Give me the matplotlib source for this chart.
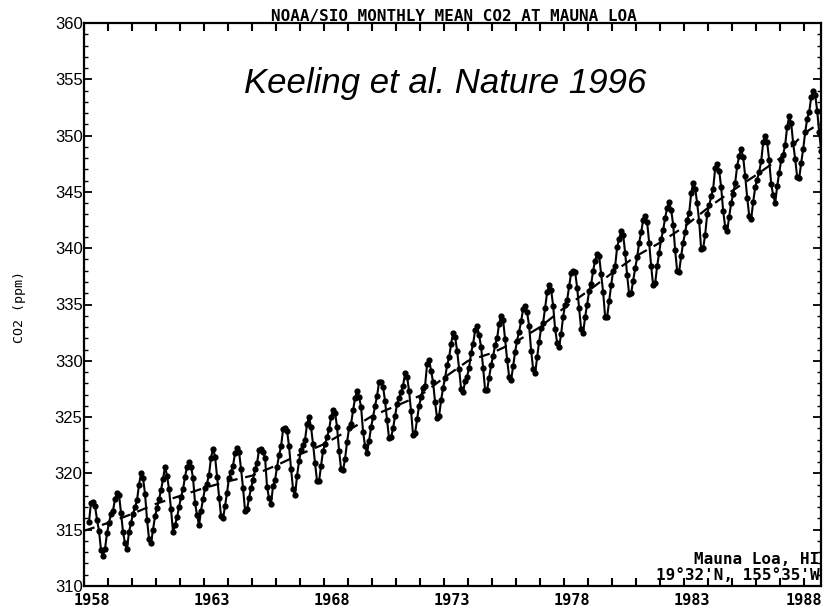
# Recreation of the NOAA/SIO monthly mean CO2 record at Mauna Loa (Keeling curve)

import numpy as np
import matplotlib
matplotlib.use("Agg")
import matplotlib.pyplot as plt
from matplotlib.transforms import ScaledTranslation

# monthly means (ppm), one row per year, Jan..Dec; nan = no data
co2_1958_1967 = [
    np.nan, np.nan, 315.7, 317.4, 317.5, 317.1, 315.9, 314.9, 313.2, 312.7, 313.3, 314.7,
    315.6, 316.4, 316.7, 317.7, 318.3, 318.1, 316.5, 314.8, 313.8, 313.3, 314.8, 315.6,
    316.4, 317.0, 317.6, 319.0, 320.0, 319.6, 318.2, 315.9, 314.2, 313.8, 315.0, 316.2,
    316.9, 317.7, 318.5, 319.5, 320.6, 319.8, 318.6, 316.8, 314.8, 315.4, 316.1, 317.0,
    317.9, 318.6, 319.7, 320.6, 321.0, 320.6, 319.6, 317.4, 316.3, 315.4, 316.7, 317.7,
    318.7, 319.1, 319.9, 321.4, 322.2, 321.5, 319.7, 317.8, 316.2, 316.0, 317.1, 318.3,
    319.6, 320.1, 320.7, 321.8, 322.3, 321.9, 320.4, 318.7, 316.7, 316.8, 317.8, 318.7,
    319.4, 320.4, 320.9, 322.1, 322.2, 321.9, 321.4, 318.8, 317.8, 317.3, 318.9, 319.4,
    320.6, 321.6, 322.4, 323.9, 324.0, 323.8, 322.4, 320.4, 318.6, 318.1, 319.8, 321.1,
    322.1, 322.5, 323.0, 324.4, 325.0, 324.1, 322.6, 320.9, 319.3, 319.3, 320.7, 322.0,
]
co2_1968_1977 = [
    322.6, 323.2, 323.9, 325.0, 325.6, 325.4, 324.1, 322.0, 320.4, 320.3, 321.3, 322.8,
    324.0, 324.4, 325.6, 326.7, 327.3, 326.8, 325.9, 323.7, 322.4, 321.8, 322.9, 324.1,
    325.0, 326.0, 326.9, 328.1, 328.1, 327.7, 326.4, 324.7, 323.1, 323.2, 324.0, 325.1,
    326.2, 326.7, 327.2, 327.8, 328.9, 328.6, 327.3, 325.5, 323.4, 323.6, 324.8, 326.0,
    326.8, 327.6, 327.8, 329.7, 330.1, 329.1, 328.1, 326.3, 324.9, 325.1, 326.5, 327.6,
    328.5, 329.6, 330.3, 331.5, 332.5, 332.1, 330.9, 329.3, 327.5, 327.2, 328.2, 328.6,
    329.4, 330.7, 331.5, 332.7, 333.1, 332.3, 331.2, 329.4, 327.4, 327.4, 328.5, 329.6,
    330.4, 331.4, 332.0, 333.3, 334.0, 333.6, 331.9, 330.1, 328.6, 328.3, 329.5, 330.8,
    331.8, 332.6, 333.5, 334.6, 334.9, 334.3, 333.1, 330.9, 329.3, 328.9, 330.3, 331.7,
    332.9, 333.4, 334.7, 336.1, 336.7, 336.3, 334.9, 332.8, 331.6, 331.2, 332.4, 333.9,
]
co2_1978_1988 = [
    335.0, 335.4, 336.6, 337.8, 338.0, 337.9, 336.5, 334.7, 332.8, 332.5, 333.9, 335.0,
    336.2, 336.8, 338.0, 338.9, 339.5, 339.3, 337.7, 336.1, 333.9, 333.9, 335.3, 336.7,
    338.0, 338.4, 340.1, 340.8, 341.5, 341.2, 339.6, 337.6, 335.9, 336.0, 337.1, 338.2,
    339.2, 340.5, 341.4, 342.5, 342.9, 342.3, 340.5, 338.4, 336.7, 336.9, 338.4, 339.6,
    340.8, 341.6, 342.7, 343.6, 344.1, 343.4, 342.1, 339.8, 338.0, 337.9, 339.3, 340.5,
    341.4, 342.5, 343.1, 344.9, 345.8, 345.3, 344.0, 342.4, 339.9, 340.0, 341.2, 343.0,
    343.8, 344.6, 345.3, 347.1, 347.5, 346.9, 345.4, 343.3, 341.9, 341.5, 342.8, 344.0,
    344.8, 345.8, 347.3, 348.2, 348.8, 348.1, 346.4, 344.5, 342.9, 342.6, 344.1, 345.4,
    346.1, 346.8, 347.7, 349.4, 350.0, 349.4, 347.8, 345.7, 344.7, 344.0, 345.5, 346.7,
    347.8, 348.3, 349.2, 350.8, 351.7, 351.1, 349.3, 347.9, 346.3, 346.2, 347.6, 348.8,
    350.3, 351.5, 352.1, 353.4, 354.0, 353.6, 352.2, 350.3, 348.6,
]

# smoothed trend (dashed line), value at the start of each year
trend_years = [1958, 1959, 1960, 1961, 1962, 1963, 1964, 1965, 1966, 1967,
               1968, 1969, 1970, 1971, 1972, 1973, 1974, 1975, 1976, 1977,
               1978, 1979, 1980, 1981, 1982, 1983, 1984, 1985, 1986, 1987,
               1988, 1989]
trend_ppm = [314.9, 315.6, 316.4, 317.3, 318.0, 318.7, 319.3, 319.8, 320.7, 321.7,
             322.6, 323.8, 325.1, 326.0, 326.9, 328.5, 330.0, 330.7, 331.7, 333.0,
             334.7, 336.2, 337.8, 339.3, 340.5, 341.9, 343.6, 345.1, 346.5, 348.0,
             350.2, 351.6]

label_years = [1958, 1963, 1968, 1973, 1978, 1983, 1988]

# put the monthly values on a decimal-year axis (middle of each month)
co2 = np.array(co2_1958_1967 + co2_1968_1977 + co2_1978_1988)
t = 1958 + (np.arange(len(co2)) + 0.5) / 12.0

mono = "DejaVu Sans Mono"

fig = plt.figure(figsize=(8.27, 6.11), dpi=100)
ax = fig.add_axes([84 / 827, 1 - 586 / 611, (821 - 84) / 827, (586 - 23) / 611])

ax.plot(t, co2, color="black", linewidth=1.5, marker="o", markersize=4.5,
        markeredgewidth=0, zorder=3)
ax.plot(trend_years, trend_ppm, color="black", linewidth=1.6,
        linestyle=(0, (5, 3.5)), zorder=2)

ax.set_xlim(1958.05, 1988.7)
ax.set_ylim(310, 360)

for side in ax.spines.values():
    side.set_linewidth(1.6)

ax.set_xticks(label_years)
ax.set_xticklabels([str(y) for y in label_years], fontfamily=mono,
                   fontsize=11, fontweight="bold")
ax.set_xticks(range(1959, 1989), minor=True)
ax.set_yticks(range(310, 361, 5))
ax.set_yticklabels([str(v) for v in range(310, 361, 5)],
                   fontfamily="Liberation Sans", fontsize=12)
ax.set_yticks(range(310, 361), minor=True)

ax.tick_params(axis="x", which="both", direction="in", top=True, length=6,
               width=1.5, pad=5)
ax.tick_params(axis="y", which="major", direction="in", right=True, length=6,
               width=1.3, pad=1)
ax.tick_params(axis="y", which="minor", direction="in", right=True, length=3,
               width=1.0)

# the old plotter put the year labels a little to the right of the ticks;
# the last one is kept inside the figure
shift = ScaledTranslation(8 / 100, 0, fig.dpi_scale_trans)
for lbl in ax.get_xticklabels()[:-1]:
    lbl.set_transform(lbl.get_transform() + shift)

fig.text(454 / 827, 1 - 16 / 611, "NOAA/SIO MONTHLY MEAN CO2 AT MAUNA LOA",
         fontfamily=mono, fontsize=11.5, fontweight="bold",
         ha="center", va="center")
fig.text(19 / 827, 1 - 307 / 611, "CO2 (ppm)", fontfamily=mono, fontsize=9.5,
         rotation=90, ha="center", va="center")
fig.text(445 / 827, 1 - 93 / 611, "Keeling et al. Nature 1996",
         fontfamily="Liberation Sans", style="italic", fontsize=25,
         ha="center", va="baseline")
fig.text(819 / 827, 1 - 559 / 611, "Mauna Loa, HI", fontfamily=mono,
         fontsize=11.5, fontweight="bold", ha="right", va="center")
fig.text(820 / 827, 1 - 576 / 611, "19\u00b032'N, 155\u00b035'W", fontfamily=mono,
         fontsize=11.5, fontweight="bold", ha="right", va="center")

fig.savefig("out.png", dpi=100)
